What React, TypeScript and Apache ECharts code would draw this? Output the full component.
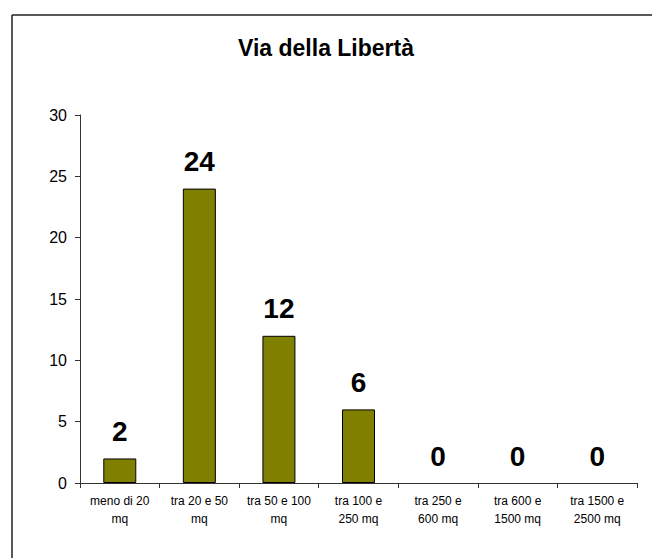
import React, { useEffect, useRef } from "react";
import * as echarts from "echarts";

// Number of properties per surface band
const categories = [
  "meno di 20\nmq",
  "tra 20 e 50\nmq",
  "tra 50 e 100\nmq",
  "tra 100 e\n250 mq",
  "tra 250 e\n600 mq",
  "tra 600 e\n1500 mq",
  "tra 1500 e\n2500 mq",
];
const counts = [2, 24, 12, 6, 0, 0, 0];
const yTicks = { min: 0, max: 30, interval: 5 };

const FONT = "'Liberation Sans', Arial, sans-serif";

export default function App() {
  const ref = useRef<HTMLDivElement>(null);

  useEffect(() => {
    if (!ref.current) return;
    const chart = echarts.init(ref.current, undefined, { renderer: "svg" });
    // empty bands get no fill or outline so no sliver is drawn on the axis
    const barData = counts.map((v) => ({
      value: v,
      itemStyle: v === 0 ? { borderWidth: 0, color: "transparent" } : {},
    }));
    chart.setOption({
      animation: false,
      backgroundColor: "#ffffff",
      textStyle: { fontFamily: FONT },
      title: {
        text: "Via della Libertà",
        left: "center",
        top: 31,
        textStyle: { fontFamily: FONT, fontSize: 23, fontWeight: "bold", color: "#000" },
      },
      graphic: [
        {
          type: "line",
          shape: { x1: 12, y1: 15, x2: 652, y2: 15 },
          style: { stroke: "#222", lineWidth: 1.5 },
        },
        {
          type: "line",
          shape: { x1: 12, y1: 15, x2: 12, y2: 558 },
          style: { stroke: "#222", lineWidth: 1.5 },
        },
      ],
      grid: { left: 80, right: 15, top: 115, bottom: 75 },
      xAxis: {
        type: "category",
        data: categories,
        axisLine: { lineStyle: { color: "#333", width: 1 } },
        axisTick: { show: true, length: 5, lineStyle: { color: "#333" } },
        axisLabel: {
          interval: 0,
          margin: 9,
          fontFamily: FONT,
          fontSize: 12,
          lineHeight: 18,
          color: "#000",
        },
      },
      yAxis: {
        type: "value",
        min: yTicks.min,
        max: yTicks.max,
        interval: yTicks.interval,
        splitLine: { show: false },
        axisLine: { show: true, lineStyle: { color: "#333", width: 1 } },
        axisTick: { show: true, length: 5, lineStyle: { color: "#333" } },
        axisLabel: { margin: 13, fontFamily: FONT, fontSize: 16, color: "#000" },
      },
      series: [
        {
          type: "bar",
          data: barData,
          barWidth: 33,
          itemStyle: { color: "#808000", borderColor: "#000", borderWidth: 1 },
          label: {
            show: true,
            position: "top",
            distance: 13,
            fontFamily: FONT,
            fontSize: 28,
            fontWeight: "bold",
            color: "#000",
          },
        },
      ],
    });
    return () => chart.dispose();
  }, []);

  return (
    <div
      ref={ref}
      style={{ position: "fixed", left: 0, top: 0, width: 652, height: 558 }}
    />
  );
}
